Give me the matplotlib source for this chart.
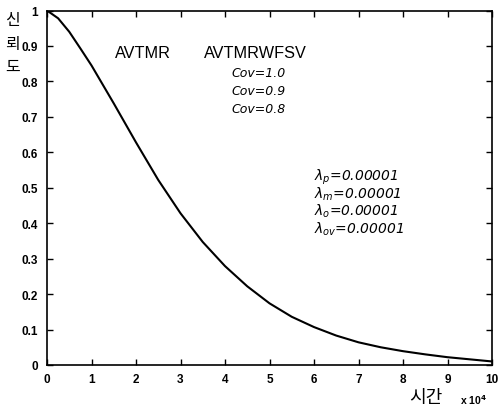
import numpy as np
import matplotlib
matplotlib.use("Agg")
import matplotlib.pyplot as plt

plt.rcParams['font.family'] = ['Liberation Sans', 'Noto Sans CJK KR', 'DejaVu Sans']
plt.rcParams['mathtext.fontset'] = 'dejavusans'

# data (time in units of 1e4)
time = [0, 0.25, 0.5, 0.75, 1, 1.5, 2, 2.5, 3, 3.5, 4, 4.5, 5, 5.5, 6, 6.5, 7, 7.5, 8, 8.5, 9, 9.5, 10]
reliability = [1.0, 0.978, 0.94, 0.893, 0.845, 0.738, 0.628, 0.522, 0.428, 0.347, 0.279, 0.222,
               0.174, 0.136, 0.107, 0.083, 0.064, 0.05, 0.039, 0.03, 0.022, 0.016, 0.01]
xticks = list(range(0, 11))
yticks = [0, 0.1, 0.2, 0.3, 0.4, 0.5, 0.6, 0.7, 0.8, 0.9, 1]
ytick_labels = ['0', '0.1', '0.2', '0.3', '0.4', '0.5', '0.6', '0.7', '0.8', '0.9', '1']
cov_labels = ['Cov=1.0', 'Cov=0.9', 'Cov=0.8']
lambda_labels = [r'$\lambda_{\mathit{p}}$=0.00001', r'$\lambda_{\mathit{m}}$=0.00001',
                 r'$\lambda_{\mathit{o}}$=0.00001', r'$\lambda_{\mathit{ov}}$=0.00001']

W, H = 499, 410
fig = plt.figure(figsize=(W/100, H/100), dpi=100)
ax = fig.add_axes([47/W, 44/H, 445/W, 354.5/H])
ax.plot(time, reliability, color='black', lw=1.5)
ax.set_xlim(0, 10)
ax.set_ylim(0, 1)
ax.set_xticks(xticks)
ax.set_yticks(yticks)
ax.set_yticklabels(ytick_labels)
ax.tick_params(direction='in', top=True, right=True, length=4, width=1,
               labelsize=8.5)
ax.tick_params(axis='y', pad=6.5)
ax.tick_params(axis='x', pad=6)
for lab in ax.get_xticklabels() + ax.get_yticklabels():
    lab.set_fontweight('bold')
for s in ax.spines.values():
    s.set_linewidth(1.2)

def px_to_data(xp, yp):
    return (xp - 47) / 44.5, (366 - yp) / 354.5

x, y = px_to_data(115, 53)
ax.text(x, y, 'AVTMR', fontsize=11.7, ha='left', va='center')
x, y = px_to_data(204, 53)
ax.text(x, y, 'AVTMRWFSV', fontsize=11.7, ha='left', va='center')
for i, t in enumerate(cov_labels):
    x, y = px_to_data(231, 73.3 + i*18.3)
    ax.text(x, y, t, fontsize=9, style='italic', ha='left', va='center',
            family=['DejaVu Sans'])
for i, t in enumerate(lambda_labels):
    x, y = px_to_data(314, 177 + i*17.3)
    ax.text(x, y, t, fontsize=10, style='italic', ha='left', va='center',
            family=['DejaVu Sans'])

for ch, yp in zip(['신', '뢰', '도'], [21, 45, 67]):
    fig.text(12.5/W, 1 - yp/H, ch, fontsize=11.5, ha='center', va='center',
             family=['Noto Sans CJK KR'])
fig.text(426/W, 1 - 398/H, '시간', fontsize=13, ha='center', va='center',
         family=['Noto Sans CJK KR'])
fig.text(460/W, 1 - 400/H, r'x 10$^{\mathbf{4}}$', fontsize=7.5, ha='left', va='center',
         fontweight='bold')

fig.savefig('out.png', dpi=100)
